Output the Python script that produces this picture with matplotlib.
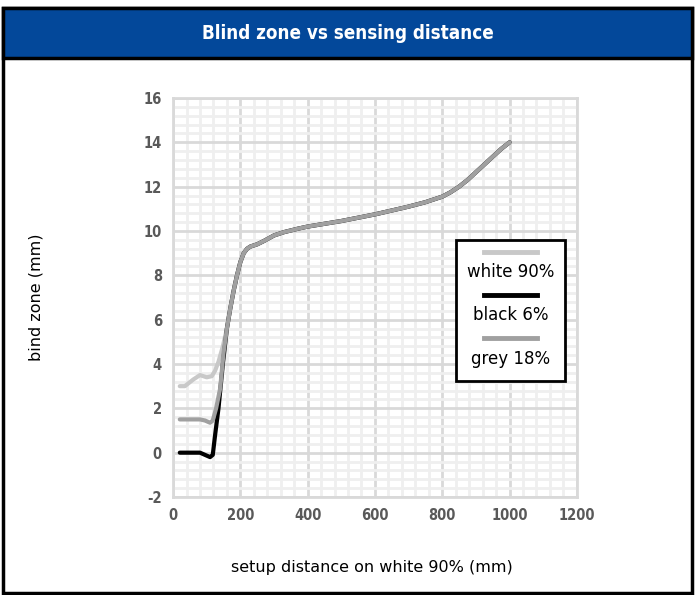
import matplotlib.pyplot as plt
from matplotlib.patches import Rectangle
from matplotlib.lines import Line2D
from matplotlib.ticker import MultipleLocator

plt.rcParams['font.family'] = ['DejaVu Sans']
plt.rcParams['axes.unicode_minus'] = False

# shared part of the curve (all three targets merge above ~160 mm)
common_x = [160, 170, 180, 190, 200, 210, 220, 230, 250, 270, 300, 330, 370, 400, 500,
            600, 700, 750, 800, 825, 850, 875, 900, 925, 950, 975, 1000]
common_y = [5.6, 6.5, 7.3, 8.0, 8.6, 9.0, 9.2, 9.3, 9.4, 9.55, 9.8, 9.95, 10.1, 10.2, 10.45,
            10.75, 11.1, 11.3, 11.55, 11.75, 12.0, 12.3, 12.65, 13.0, 13.35, 13.7, 14.0]

white_x = [20, 35, 60, 80, 100, 115, 125, 135, 148] + common_x
white_y = [3.0, 3.0, 3.3, 3.5, 3.4, 3.45, 3.7, 4.1, 4.8] + common_y
black_x = [20, 50, 80, 95, 110, 118, 125, 135, 148] + common_x
black_y = [0.0, 0.0, 0.0, -0.1, -0.2, -0.1, 0.8, 2.0, 4.0] + common_y
grey_x = [20, 50, 80, 95, 110, 118, 128, 140, 150] + common_x
grey_y = [1.5, 1.5, 1.5, 1.45, 1.35, 1.45, 2.0, 2.9, 4.5] + common_y

labels = ['white 90%', 'black 6%', 'grey 18%']
colors = ['#c8c8c8', '#000000', '#a0a0a0']

fig = plt.figure(figsize=(6.95, 5.95), dpi=100)

# frame and title bar
fig.patches.append(Rectangle((0.004, 0.004), 0.992, 0.982, transform=fig.transFigure,
                             fill=False, edgecolor='black', linewidth=2.5))
fig.patches.append(Rectangle((0.004, 0.902), 0.992, 0.084, transform=fig.transFigure,
                             facecolor='#03489a', edgecolor='black', linewidth=2.5))
fig.text(0.5, 0.944, 'Blind zone vs sensing distance', color='white', fontsize=13.5,
         fontweight='bold', ha='center', va='center', fontstretch='condensed')

ax = fig.add_axes([0.249, 0.1647, 0.581, 0.6706])
for x, y, lab, c in zip([white_x, black_x, grey_x], [white_y, black_y, grey_y], labels, colors):
    ax.plot(x, y, color=c, linewidth=3, solid_capstyle='round', solid_joinstyle='round', label=lab)

ax.set_xlim(0, 1200)
ax.set_ylim(-2, 16)
ax.xaxis.set_major_locator(MultipleLocator(200))
ax.xaxis.set_minor_locator(MultipleLocator(40))
ax.yaxis.set_major_locator(MultipleLocator(2))
ax.yaxis.set_minor_locator(MultipleLocator(0.4))
ax.grid(which='minor', color='#efefef', linewidth=2)
ax.grid(which='major', color='#d9d9d9', linewidth=2)
ax.set_axisbelow(True)
for s in ax.spines.values():
    s.set_color('#d9d9d9')
    s.set_linewidth(2)
ax.tick_params(which='both', length=0, pad=8)
for t in ax.get_xticklabels() + ax.get_yticklabels():
    t.set_fontweight('bold')
    t.set_fontsize(10.5)
    t.set_color('#595959')
    t.set_fontstretch('condensed')

fig.text(0.052, 0.5, 'bind zone (mm)', rotation=90, ha='center', va='center', fontsize=11.5)
fig.text(0.535, 0.047, 'setup distance on white 90% (mm)', ha='center', va='center', fontsize=11.5)

# custom legend: line sample above each label
bx0, by0, bw, bh = 0.701, 0.29, 0.27, 0.355
ax.add_patch(Rectangle((bx0, by0), bw, bh, transform=ax.transAxes, facecolor='white',
                       edgecolor='black', linewidth=2, zorder=5))
for i, (lab, c) in enumerate(zip(labels, colors)):
    ytop = by0 + bh - 0.03 - i * 0.108
    ax.add_line(Line2D([bx0 + 0.07, bx0 + 0.2], [ytop, ytop], transform=ax.transAxes,
                       color=c, linewidth=3.5, zorder=6))
    ax.text(bx0 + bw / 2, ytop - 0.052, lab, transform=ax.transAxes, ha='center',
            va='center', fontsize=12, zorder=6)

fig.savefig('out.png', dpi=100)
